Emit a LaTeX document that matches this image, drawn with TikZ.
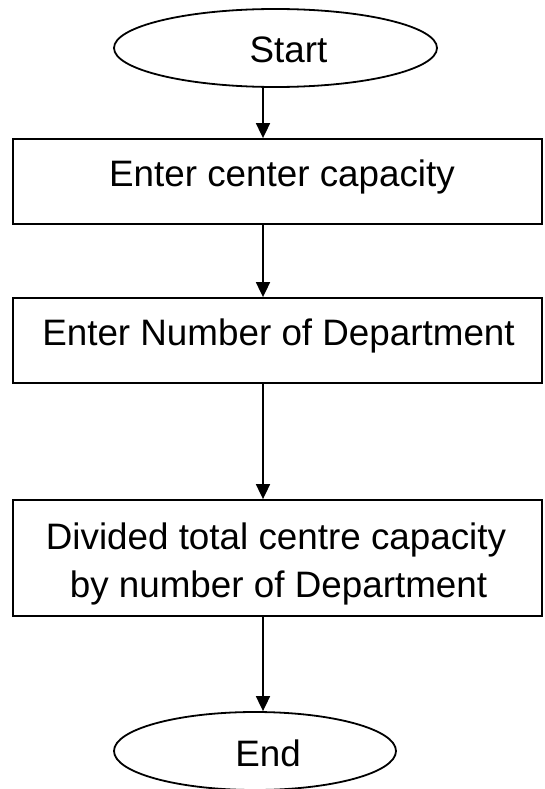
\documentclass[tikz,border=0pt]{standalone}
\usepackage{fontspec}
\setmainfont{Liberation Sans}
\usetikzlibrary{arrows.meta,shapes.geometric}
\begin{document}
\begin{tikzpicture}[x=1pt,y=-1pt,
  line width=1.8pt,
  terminal/.style={draw,ellipse,minimum height=78pt,inner sep=0pt},
  stepbox/.style={draw,rectangle,inner sep=0pt,minimum width=529pt},
  txt/.style={anchor=base,inner sep=0pt,font=\fontsize{36.8}{48}\selectfont},
  flow/.style={-{Triangle[length=15pt,width=14pt]}}]
  \useasboundingbox (0,0) rectangle (544,789);

  % vertical line along which the connectors run
  \coordinate (axis) at (263,0);

  % terminals
  \node[terminal,minimum width=323pt] (start) at (275.5,48) {};
  \node[terminal,minimum width=282pt] (end) at (255,751) {};

  % process boxes
  \node[stepbox,minimum height=85pt] (b1) at (277.5,181.5) {};
  \node[stepbox,minimum height=85pt] (b2) at (277.5,340.5) {};
  \node[stepbox,minimum height=116pt] (b3) at (277.5,558) {};

  % labels
  \node[txt] (tstart) at (288.5,63) {Start};
  \node[txt] (t1) at (282,186) {Enter center capacity};
  \node[txt] (t2) at (278.5,345) {Enter Number of Department};
  \node[txt] (t3a) at (276,549) {Divided total centre capacity};
  \node[txt] (t3b) at (278.5,597) {by number of Department};
  \node[txt] (tend) at (268,766) {End};

  % connectors
  \draw[flow] (start.south -| axis) -- (b1.north -| axis);
  \draw[flow] (b1.south -| axis) -- (b2.north -| axis);
  \draw[flow] (b2.south -| axis) -- (b3.north -| axis);
  \draw[flow] (b3.south -| axis) -- (end.north -| axis);
\end{tikzpicture}
\end{document}
